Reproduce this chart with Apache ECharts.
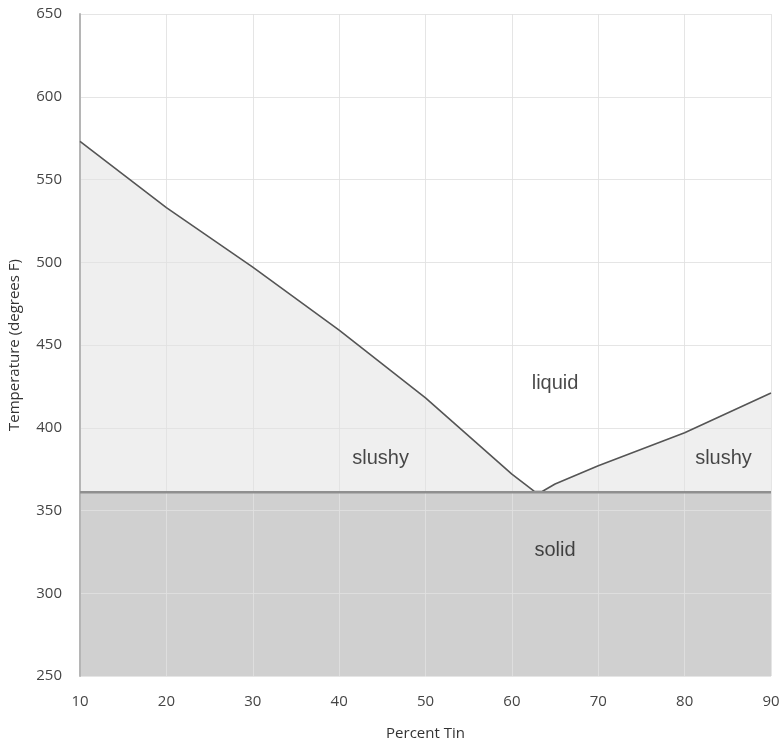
<!DOCTYPE html>
<html><head><meta charset="utf-8">
<script src="https://cdn.jsdelivr.net/npm/echarts@6/dist/echarts.min.js"></script>
<style>html,body{margin:0;padding:0;background:#fff;}#c{width:784px;height:743px;}</style>
</head><body><div id="c"></div>
<script>
// Liquidus curve (percent tin, temperature F)
const liquidusX = [10, 20, 30, 40, 50, 60, 62, 62.6, 63.5, 65, 70, 80, 90];
const liquidusY = [573, 533, 497, 459, 418, 372, 364, 361.5, 361.5, 366, 377, 397, 421];
// Solidus (eutectic) line
const solidusX = [10, 90];
const solidusY = [361, 361];
// Region labels
const labelText = ['liquid', 'slushy', 'slushy', 'solid'];
const labelX = [65, 44.8, 84.5, 65];
const labelY = [427, 381.5, 381.5, 326];
const xTicks = [10, 20, 30, 40, 50, 60, 70, 80, 90];
const yTicks = [250, 300, 350, 400, 450, 500, 550, 600, 650];

const chart = echarts.init(document.getElementById('c'), null, {renderer: 'canvas'});
const tickFont = {fontFamily: 'Open Sans', fontSize: 15, color: '#454545'};
const liq = liquidusX.map((x, i) => [x, liquidusY[i]]);
const sol = solidusX.map((x, i) => [x, solidusY[i]]);
chart.setOption({
  animation: false,
  grid: {left: 80, right: 13, top: 14, bottom: 67, containLabel: false, outerBoundsMode: 'none'},
  xAxis: {
    type: 'value', min: xTicks[0], max: xTicks[xTicks.length - 1], interval: 10, z: 5,
    name: 'Percent Tin', nameLocation: 'middle', nameGap: 50,
    nameTextStyle: {fontFamily: 'Open Sans', fontSize: 15, color: '#333333'},
    axisLine: {show: false}, axisTick: {show: false},
    axisLabel: Object.assign({margin: 18}, tickFont),
    splitLine: {show: true, lineStyle: {color: 'rgba(225,225,225,0.85)', width: 1}}
  },
  yAxis: {
    type: 'value', min: yTicks[0], max: yTicks[yTicks.length - 1], interval: 50, z: 5,
    name: 'Temperature (degrees F)', nameLocation: 'middle', nameGap: 58, nameRotate: 90,
    nameTextStyle: {fontFamily: 'Open Sans', fontSize: 15, color: '#333333'},
    axisLine: {show: true, lineStyle: {color: '#b5b5b5', width: 2}}, axisTick: {show: false},
    axisLabel: Object.assign({margin: 18}, tickFont),
    splitLine: {show: true, lineStyle: {color: 'rgba(225,225,225,0.85)', width: 1}}
  },
  series: [
    {
      type: 'line', z: 1, data: liq, showSymbol: false, symbol: 'none',
      lineStyle: {width: 0, opacity: 0},
      areaStyle: {color: '#efefef', opacity: 1, origin: 'start'}
    },
    {
      type: 'line', z: 2, data: sol, showSymbol: false, symbol: 'none',
      lineStyle: {width: 0, opacity: 0},
      areaStyle: {color: '#d0d0d0', opacity: 1, origin: 'start'}
    },
    {
      type: 'line', z: 8, data: liq, showSymbol: false, symbol: 'none',
      lineStyle: {color: '#555555', width: 1.6}
    },
    {
      type: 'line', z: 9, data: sol, showSymbol: false, symbol: 'none',
      lineStyle: {color: '#8f8f8f', width: 2.5}
    },
    {
      type: 'scatter', z: 12, symbolSize: 0,
      data: labelX.map((x, i) => ({value: [x, labelY[i]], name: labelText[i]})),
      label: {show: true, position: 'inside', formatter: p => p.name,
        fontFamily: 'Liberation Sans', fontSize: 20, color: '#1a1a1a'}
    }
  ]
});
</script></body></html>
